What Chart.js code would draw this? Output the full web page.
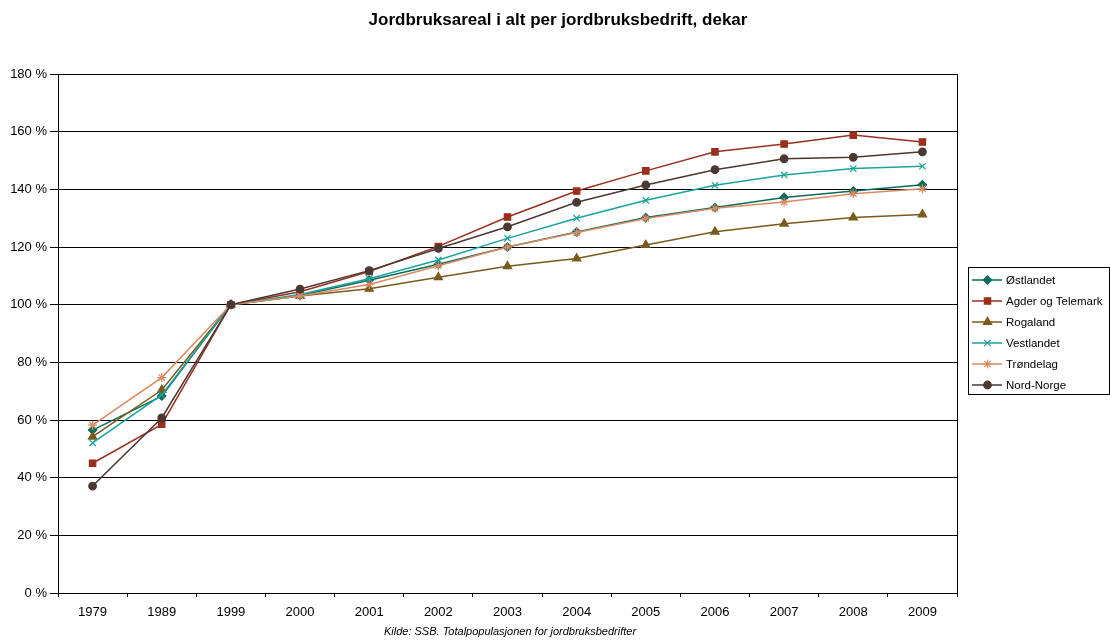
<!DOCTYPE html>
<html><head><meta charset="utf-8">
<script src="https://cdn.jsdelivr.net/npm/chart.js@4/dist/chart.umd.min.js"></script>
<style>html,body{margin:0;padding:0;background:#fff}#wrap{width:1110px;height:640px;position:relative}</style>
</head><body><div id="wrap"><canvas id="c" width="1110" height="640"></canvas></div>
<script>
const categories = ["1979","1989","1999","2000","2001","2002","2003","2004","2005","2006","2007","2008","2009"];
const ostlandet  = [56.5, 68.3, 100, 103.2, 108.5, 114.0, 120.0, 125.2, 130.2, 133.7, 137.2, 139.4, 141.6];
const agder      = [45.0, 58.5, 100, 104.5, 111.5, 120.2, 130.4, 139.4, 146.4, 153.0, 155.7, 158.8, 156.4];
const rogaland   = [54.2, 70.4, 100, 103.0, 105.5, 109.5, 113.3, 116.0, 120.7, 125.3, 128.1, 130.2, 131.3];
const vestlandet = [52.1, 68.7, 100, 103.5, 109.0, 115.5, 123.0, 130.0, 136.2, 141.4, 145.0, 147.2, 148.0];
const trondelag  = [58.2, 74.7, 100, 103.0, 107.0, 113.5, 120.0, 125.0, 129.9, 133.4, 135.6, 138.5, 140.2];
const nordnorge  = [37.1, 60.7, 100, 105.4, 111.8, 119.5, 127.0, 135.5, 141.5, 146.8, 150.6, 151.1, 153.0];
const seriesNames = ["Østlandet","Agder og Telemark","Rogaland","Vestlandet","Trøndelag","Nord-Norge"];

const FONT = "'Liberation Sans', Arial, sans-serif";
const styles = [
  {c:'#0b6b5c', p:'rectRot', r:4.2},
  {c:'#9a2f1f', p:'rect', r:4.5},
  {c:'#7a5a1c', p:'triangle', r:4.8},
  {c:'#1aa39c', p:'crossRot', r:4.5},
  {c:'#d98a62', p:'star', r:4.5},
  {c:'#4a3831', p:'circle', r:3.8}
];
const allData = [ostlandet, agder, rogaland, vestlandet, trondelag, nordnorge];
const datasets = allData.map((d,i)=>({
  label: seriesNames[i], data: d,
  borderColor: styles[i].c, backgroundColor: styles[i].c,
  pointBorderColor: styles[i].c, pointBackgroundColor: styles[i].c,
  pointStyle: styles[i].p, pointRadius: styles[i].r, pointBorderWidth: 1.2,
  borderWidth: 1.5, tension: 0, order: 10 - i
}));

const extras = {
  id:'extras',
  afterDraw(chart){
    const ctx = chart.ctx, a = chart.chartArea;
    ctx.save();
    ctx.strokeStyle = '#000'; ctx.lineWidth = 1;
    ctx.beginPath();
    ctx.moveTo(Math.round(a.left)+0.5, Math.round(a.top)+0.5);
    ctx.lineTo(Math.round(a.right)+0.5, Math.round(a.top)+0.5);
    ctx.lineTo(Math.round(a.right)+0.5, Math.round(a.bottom)+0.5);
    ctx.stroke();
    ctx.fillStyle = '#000';
    ctx.font = "bold 17px " + FONT;
    ctx.textAlign = 'center'; ctx.textBaseline = 'middle';
    ctx.fillText("Jordbruksareal i alt per jordbruksbedrift, dekar", 558, 20);
    ctx.font = "italic 11px " + FONT;
    ctx.fillText("Kilde: SSB. Totalpopulasjonen for jordbruksbedrifter", 510, 632);
    const lx = 968, ly = 267, lw = 141, lh = 127;
    ctx.fillStyle = '#fff'; ctx.fillRect(lx, ly, lw, lh);
    ctx.strokeStyle = '#000'; ctx.strokeRect(lx+0.5, ly+0.5, lw, lh);
    ctx.font = "11.5px " + FONT; ctx.textAlign = 'left';
    chart.data.datasets.forEach((ds,i)=>{
      const y = 280 + i*21;
      ctx.strokeStyle = ds.borderColor; ctx.lineWidth = 1.5;
      ctx.beginPath(); ctx.moveTo(972, y); ctx.lineTo(1002, y); ctx.stroke();
      ctx.fillStyle = ds.borderColor; ctx.lineWidth = 1.2;
      Chart.helpers.drawPoint(ctx, {pointStyle: ds.pointStyle, radius: ds.pointRadius, borderWidth: 1.2}, 987.5, y);
      ctx.fillStyle = '#000';
      ctx.fillText(ds.label, 1006, y+0.5);
    });
    ctx.restore();
  }
};

new Chart(document.getElementById('c'), {
  type: 'line',
  data: { labels: categories, datasets },
  options: {
    responsive: false, animation: false, devicePixelRatio: 1,
    layout: { padding: { top: 74, right: 153, bottom: 0, left: 0 } },
    plugins: { legend: { display: false }, tooltip: { enabled: false }, title: { display: false } },
    scales: {
      x: {
        offset: true,
        grid: { display: true, drawOnChartArea: false, drawTicks: true, tickLength: 4, offset: true, color: '#000' },
        border: { display: true, color: '#000' },
        ticks: { color: '#000', font: { family: FONT, size: 13 }, padding: 8, maxRotation: 0, autoSkip: false },
        afterFit(s){ s.height = 47; }
      },
      y: {
        min: 0, max: 180,
        grid: { color: '#000', lineWidth: 1, drawTicks: true, tickLength: 8 },
        border: { display: true, color: '#000' },
        ticks: { stepSize: 20, color: '#000', font: { family: FONT, size: 13 }, padding: 3,
          callback: v => v + ' %' },
        afterFit(s){ s.width = 58; }
      }
    }
  },
  plugins: [extras]
});
</script></body></html>
